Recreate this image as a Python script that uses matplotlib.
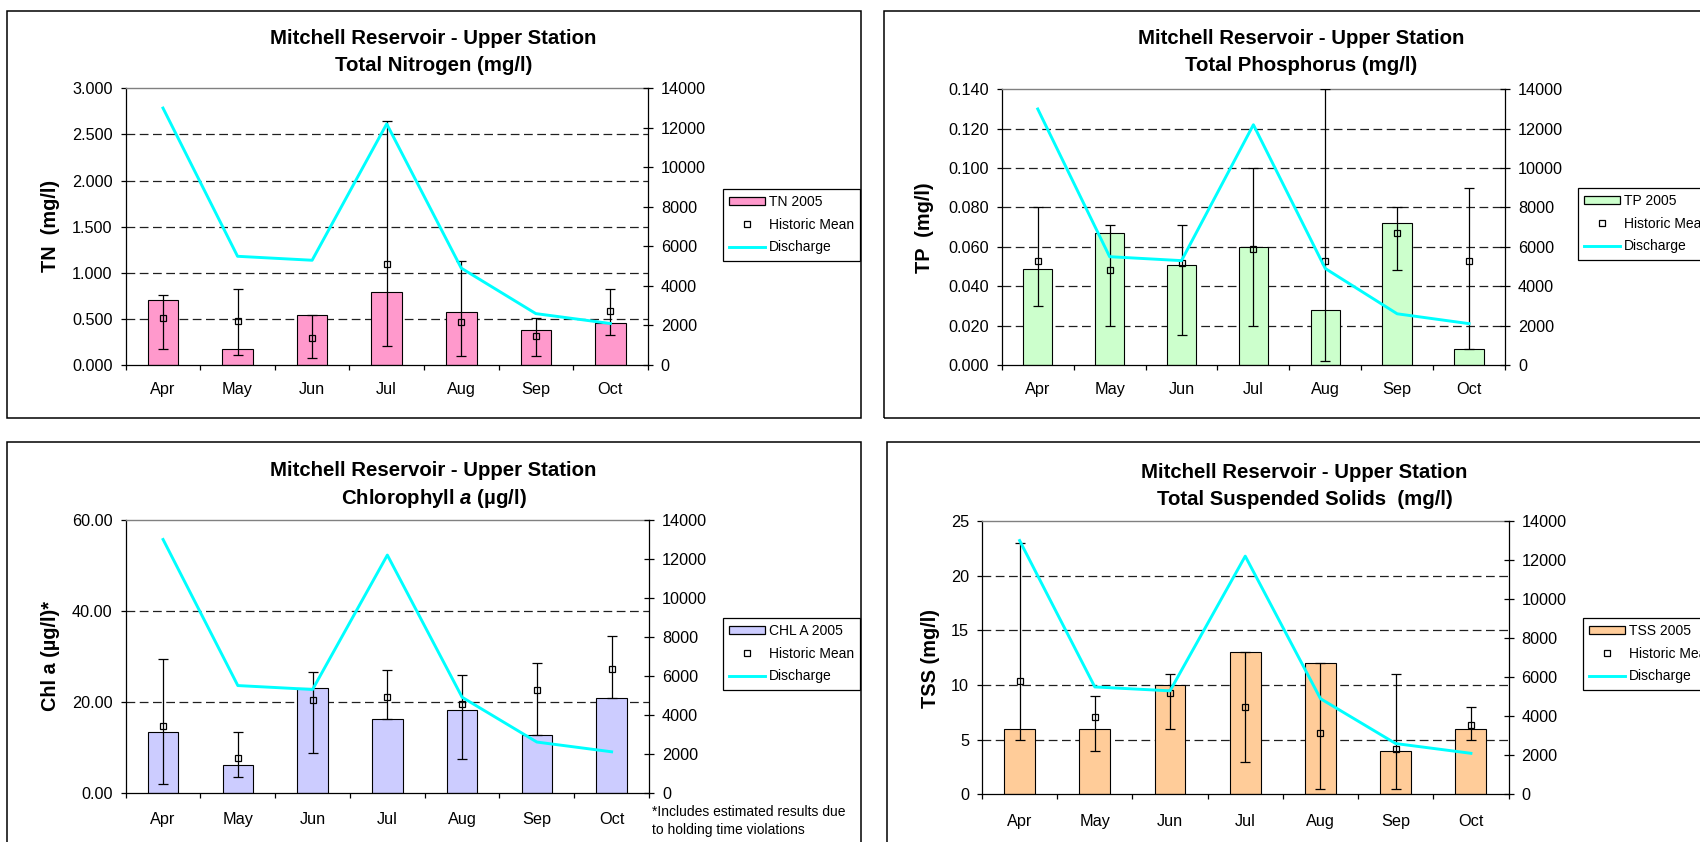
import matplotlib
matplotlib.use("Agg")
import matplotlib.pyplot as plt
from matplotlib.patches import Rectangle, Patch
from matplotlib.lines import Line2D
import numpy as np

plt.rcParams['font.family'] = ['Liberation Sans', 'DejaVu Sans']
plt.rcParams['mathtext.fontset'] = 'custom'
plt.rcParams['mathtext.it'] = 'Liberation Sans:italic:bold'
plt.rcParams['mathtext.rm'] = 'Liberation Sans:bold'
plt.rcParams['mathtext.bf'] = 'Liberation Sans:bold'

# ---------------- data ----------------
months = ['Apr', 'May', 'Jun', 'Jul', 'Aug', 'Sep', 'Oct']
discharge = [13000, 5500, 5300, 12200, 4900, 2600, 2100]

tn_2005 = [0.71, 0.17, 0.54, 0.79, 0.58, 0.38, 0.45]
tn_mean = [0.51, 0.48, 0.29, 1.10, 0.47, 0.31, 0.59]
tn_max = [0.76, 0.82, 0.54, 2.65, 1.13, 0.51, 0.82]
tn_min = [0.17, 0.11, 0.08, 0.21, 0.10, 0.10, 0.33]

tp_2005 = [0.049, 0.067, 0.051, 0.060, 0.028, 0.072, 0.008]
tp_mean = [0.053, 0.048, 0.052, 0.059, 0.053, 0.067, 0.053]
tp_max = [0.080, 0.071, 0.071, 0.100, 0.140, 0.080, 0.090]
tp_min = [0.030, 0.020, 0.015, 0.020, 0.002, 0.048, 0.008]

chl_2005 = [13.4, 6.0, 23.1, 16.3, 18.3, 12.6, 20.9]
chl_mean = [14.7, 7.6, 20.4, 21.0, 19.6, 22.7, 27.3]
chl_max = [29.4, 13.4, 26.6, 27.1, 26.0, 28.6, 34.5]
chl_min = [2.0, 3.4, 8.8, 16.3, 7.5, 12.6, 20.9]

tss_2005 = [6, 6, 10, 13, 12, 4, 6]
tss_mean = [10.4, 7.1, 9.3, 8.0, 5.6, 4.1, 6.3]
tss_max = [23, 9, 11, 13, 12, 11, 8]
tss_min = [5, 4, 6, 3, 0.5, 0.5, 5]

title_top = 'Mitchell Reservoir - Upper Station'

# ---------------- figure ----------------
W, H = 1700, 842
fig = plt.figure(figsize=(W / 100, H / 100), dpi=100)
fig.patch.set_facecolor('white')


def fx(x):
    return x / W


def fy(y):
    return 1 - y / H


def panel_box(x0, y0, x1, y1):
    fig.add_artist(Rectangle((fx(x0), fy(y1)), (x1 - x0) / W, (y1 - y0) / H,
                             transform=fig.transFigure, fill=False,
                             ec='black', lw=1.1, zorder=0))


def panel(rect, vals, means, vmax, vmin, color, ylim, ystep, fmt,
          ylabel, ylab_xy, title2, title_xy, legend_label, legend_xy, xpad):
    x0, y0, x1, y1 = rect
    ax = fig.add_axes([fx(x0), fy(y1), (x1 - x0) / W, (y1 - y0) / H])
    x = np.arange(len(months))
    ax.set_xlim(-0.5, len(months) - 0.5)
    ax.set_ylim(0, ylim)
    yt = np.arange(0, ylim + ystep / 2, ystep)
    ax.set_yticks(yt)
    ax.set_yticklabels([fmt % v for v in yt])
    # dashed gridlines (interior)
    for v in yt[1:-1]:
        ax.axhline(v, color='#202020', lw=0.9, dashes=(7, 3.6), zorder=0.5)
    ax.bar(x, vals, width=0.41, color=color, edgecolor='black', lw=0.8, zorder=2)
    means = np.array(means)
    yerr = [means - np.array(vmin), np.array(vmax) - means]
    ax.errorbar(x, means, yerr=yerr, fmt='s', ms=5, mfc='none', mec='black',
                mew=0.9, ecolor='black', elinewidth=0.9, capsize=3.6,
                capthick=0.9, zorder=3)
    ax.set_xticks(x)
    ax.set_xticklabels(months)
    ax.set_xticks(np.arange(-0.5, len(months)), minor=True)
    ax.tick_params(axis='x', which='major', length=0, pad=xpad, labelsize=11.7)
    ax.tick_params(axis='x', which='minor', length=3.6, width=0.9, direction='out')
    ax.tick_params(axis='y', length=3.6, width=0.9, direction='out', pad=5.8,
                   labelsize=11.7)
    for s in ['left', 'bottom']:
        ax.spines[s].set_color('black')
        ax.spines[s].set_linewidth(0.9)
    ax.spines['top'].set_color('#808080')
    ax.spines['top'].set_linewidth(1.0)
    ax.spines['right'].set_visible(False)

    ax2 = ax.twinx()
    ax2.set_ylim(0, 14000)
    ax2.set_yticks(np.arange(0, 14001, 2000))
    ax2.plot(x, discharge, color='#00FFFF', lw=2.1, zorder=4)
    ax2.tick_params(axis='y', length=7.2, width=0.9, direction='inout', pad=5.8,
                    labelsize=11.7)
    for s in ['left', 'top', 'bottom']:
        ax2.spines[s].set_visible(False)
    ax2.spines['right'].set_color('black')
    ax2.spines['right'].set_linewidth(0.9)

    fig.text(fx(ylab_xy[0]), fy(ylab_xy[1]), ylabel, rotation=90, ha='center',
             va='center', fontsize=14.3, fontweight='bold')
    fig.text(fx(title_xy[0]), fy(title_xy[1]), title_top, ha='center',
             va='center', fontsize=14.7, fontweight='bold')
    fig.text(fx(title_xy[0]), fy(title_xy[1] + 27.3), title2, ha='center',
             va='center', fontsize=14.7, fontweight='bold')

    handles = [Patch(facecolor=color, edgecolor='black', lw=0.9),
               Line2D([], [], ls='none', marker='s', ms=5, mfc='none',
                      mec='black', mew=0.9),
               Line2D([], [], color='#00FFFF', lw=2.1)]
    labels = [legend_label, 'Historic Mean', 'Discharge']
    leg = ax2.legend(handles, labels, loc='upper left',
                     bbox_to_anchor=(fx(legend_xy[0]), fy(legend_xy[1])),
                     bbox_transform=fig.transFigure, fontsize=10,
                     frameon=True, fancybox=False, framealpha=1,
                     edgecolor='black', borderaxespad=0, borderpad=0.45,
                     handlelength=2.55, handleheight=0.5, handletextpad=0.3,
                     labelspacing=0.62)
    leg.get_frame().set_linewidth(0.9)
    return ax, ax2


# panel borders
panel_box(6.5, 10.5, 860.5, 418)
panel_box(884, 10.5, 1760, 418)
panel_box(6.5, 442, 860.5, 900)
panel_box(887, 442, 1760, 900)

panel((125.7, 88.3, 647.7, 365), tn_2005, tn_mean, tn_max, tn_min, '#FF99CC',
      3.0, 0.5, '%.3f', 'TN  (mg/l)', (50, 226), 'Total Nitrogen (mg/l)',
      (433.6, 38.5), 'TN 2005', (723, 189), 12.5)

panel((1001.8, 89.3, 1505, 365), tp_2005, tp_mean, tp_max, tp_min, '#CCFFCC',
      0.14, 0.02, '%.3f', 'TP  (mg/l)', (925, 228), 'Total Phosphorus (mg/l)',
      (1301, 38.5), 'TP 2005', (1578, 188), 12.5)

panel((125.7, 520, 649, 792.7), chl_2005, chl_mean, chl_max, chl_min, '#CCCCFF',
      60, 20, '%.2f', 'Chl a (µg/l)*', (50, 656),
      r'Chlorophyll $\mathit{a}$ (µg/l)', (433.6, 471), 'CHL A 2005', (723, 618),
      14)

panel((982, 521, 1508.5, 794.3), tss_2005, tss_mean, tss_max, tss_min, '#FFCC99',
      25, 5, '%d', 'TSS (mg/l)', (930, 658.5), 'Total Suspended Solids  (mg/l)',
      (1304.5, 472), 'TSS 2005', (1583, 618), 14)

fig.text(fx(652), fy(812), '*Includes estimated results due', ha='left',
         va='center', fontsize=10)
fig.text(fx(652), fy(830), 'to holding time violations', ha='left',
         va='center', fontsize=10)

fig.savefig('out.png', dpi=100, facecolor='white')
